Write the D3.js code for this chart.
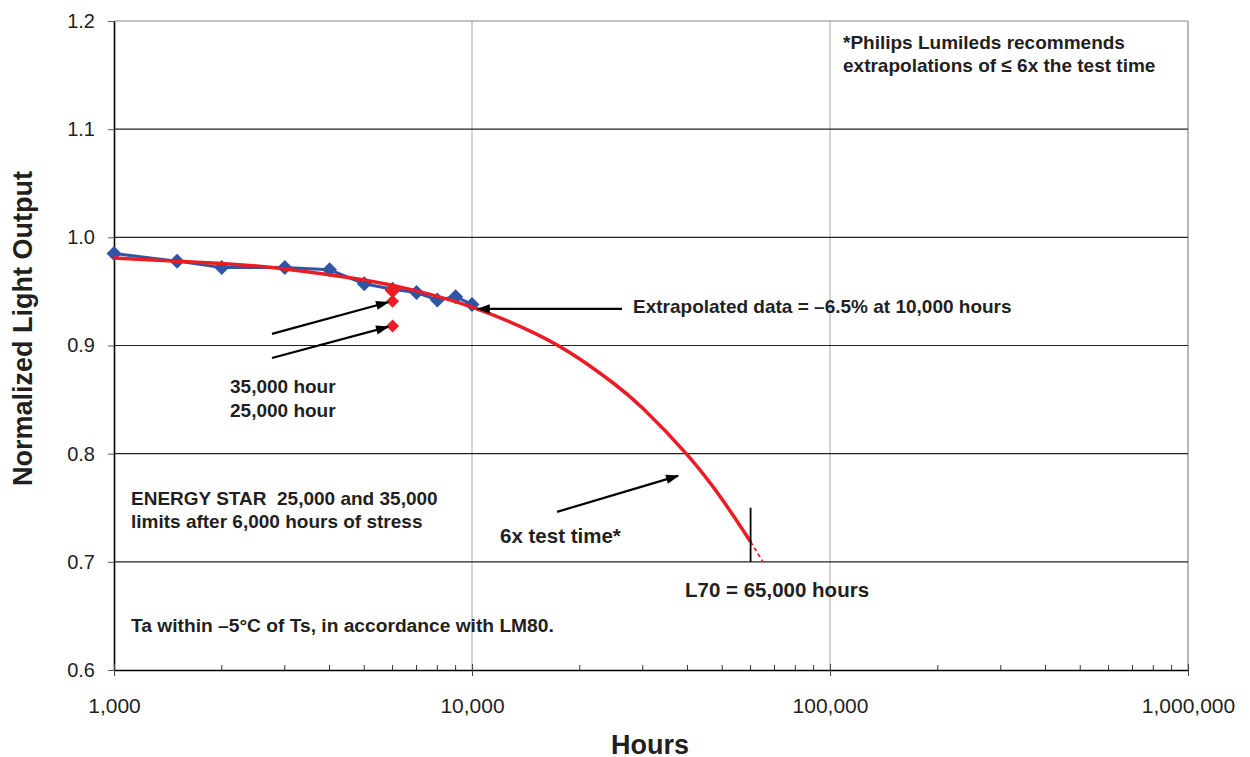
<!DOCTYPE html>
<html>
<head>
<meta charset="utf-8">
<script src="https://cdn.jsdelivr.net/npm/d3@7"></script>
<style>
  body { margin: 0; background: #fff; }
  svg { font-family: "Liberation Sans", Arial, sans-serif; }
  .ann { font-weight: bold; fill: #231f20; }
</style>
</head>
<body>
<svg id="chart" width="1250" height="757"></svg>
<script>
// measured LM80 data (hours vs normalized light output)
const testHours = [1000, 1500, 2000, 3000, 4000, 5000, 6000, 7000, 8000, 9000, 10000];
const testOutput = [0.985, 0.978, 0.972, 0.972, 0.970, 0.957, 0.952, 0.949, 0.942, 0.945, 0.938];

// projected (fitted) curve
const fitHours = [1000, 2000, 3000, 5000, 7000, 10000, 15000, 20000, 25000, 30000, 40000, 50000, 60000];
const fitOutput = [0.9810, 0.9758, 0.9707, 0.9605, 0.9505, 0.9355, 0.9112, 0.8875, 0.8644, 0.8419, 0.7986, 0.7576, 0.7186];
const dashHours = [60000, 65000];
const dashOutput = [0.7186, 0.6999];

// ENERGY STAR points at 6,000 hours
const limitHours = [6000, 6000, 6000];
const limitOutput = [0.951, 0.941, 0.918];
const limitSize = [8, 6.5, 6.5];

const yTicks = [0.6, 0.7, 0.8, 0.9, 1.0, 1.1, 1.2];
const xTicks = [1000, 10000, 100000, 1000000];

const svg = d3.select('#chart');
const margin = { top: 21, right: 62, bottom: 87, left: 114 };
const width = +svg.attr('width');
const height = +svg.attr('height');
const innerWidth = width - margin.left - margin.right;
const innerHeight = height - margin.top - margin.bottom;

const x = d3.scaleLog().domain([1000, 1000000]).range([0, innerWidth]);
const y = d3.scaleLinear().domain([0.6, 1.2]).range([innerHeight, 0]);

const g = svg.append('g').attr('transform', `translate(${margin.left},${margin.top})`);

// vertical grid (light)
g.selectAll('.vgrid').data(xTicks.slice(1))
  .enter().append('line')
    .attr('x1', d => x(d)).attr('x2', d => x(d))
    .attr('y1', 0).attr('y2', innerHeight)
    .attr('stroke', d => d === 1000000 ? '#888' : '#b4b4b4')
    .attr('stroke-width', 1.2);

// horizontal grid
g.selectAll('.hgrid').data(yTicks.slice(1))
  .enter().append('line')
    .attr('x1', 0).attr('x2', innerWidth)
    .attr('y1', d => y(d)).attr('y2', d => y(d))
    .attr('stroke', d => d === 1.2 ? '#888' : '#222')
    .attr('stroke-width', 1.1);

// y axis
const yAxisG = g.append('g')
  .call(d3.axisLeft(y).tickValues(yTicks).tickFormat(d3.format('.1f')).tickSize(6).tickSizeOuter(0));
yAxisG.select('.domain').attr('stroke', '#000').attr('stroke-width', 1.6);
yAxisG.selectAll('.tick line').attr('stroke', '#555');
yAxisG.selectAll('.tick text')
  .attr('x', -19)
  .attr('font-size', 20)
  .attr('font-family', '"Liberation Sans", Arial, sans-serif')
  .attr('fill', '#231f20');

// x axis: minor ticks inside, major ticks crossing
const minor = [];
[1000, 10000, 100000].forEach(base => {
  for (let k = 2; k <= 9; k++) minor.push(base * k);
});
g.selectAll('.minor').data(minor)
  .enter().append('line')
    .attr('x1', d => x(d)).attr('x2', d => x(d))
    .attr('y1', innerHeight - 5).attr('y2', innerHeight)
    .attr('stroke', '#333').attr('stroke-width', 1);

const xAxisG = g.append('g')
  .attr('transform', `translate(0,${innerHeight})`)
  .call(d3.axisBottom(x).tickValues(xTicks).tickFormat(d3.format(',')).tickSize(6).tickSizeOuter(0));
xAxisG.select('.domain').attr('stroke', '#000').attr('stroke-width', 1.6);
xAxisG.selectAll('.tick line').attr('y1', -6).attr('stroke', '#444');
xAxisG.selectAll('.tick text')
  .attr('y', 28)
  .attr('font-size', 21)
  .attr('font-family', '"Liberation Sans", Arial, sans-serif')
  .attr('fill', '#231f20');

// axis titles
svg.append('text')
  .attr('transform', `translate(32,${margin.top + y(0.9) - 17}) rotate(-90)`)
  .attr('text-anchor', 'middle')
  .attr('class', 'ann')
  .attr('font-size', 27)
  .text('Normalized Light Output');

svg.append('text')
  .attr('x', margin.left + innerWidth / 2 - 1)
  .attr('y', 754)
  .attr('text-anchor', 'middle')
  .attr('class', 'ann')
  .attr('font-size', 27)
  .text('Hours');

// measured data line + diamonds
const testData = testHours.map((h, i) => ({ h, v: testOutput[i] }));
const line = d3.line().x(d => x(d.h)).y(d => y(d.v));

g.append('path')
  .datum(testData)
  .attr('fill', 'none')
  .attr('stroke', '#2f55a4')
  .attr('stroke-width', 3)
  .attr('d', line);

const diamond = s => `M0,${-s}L${s},0L0,${s}L${-s},0Z`;

g.selectAll('.test-pt').data(testData)
  .enter().append('path')
    .attr('transform', d => `translate(${x(d.h)},${y(d.v)})`)
    .attr('d', diamond(7.5))
    .attr('fill', '#2f55a4');

// fitted projection
const fitData = fitHours.map((h, i) => ({ h, v: fitOutput[i] }));
g.append('path')
  .datum(fitData)
  .attr('fill', 'none')
  .attr('stroke', '#ec1c24')
  .attr('stroke-width', 3.5)
  .attr('d', d3.line().x(d => x(d.h)).y(d => y(d.v)).curve(d3.curveNatural));

const dashData = dashHours.map((h, i) => ({ h, v: dashOutput[i] }));
g.append('path')
  .datum(dashData)
  .attr('fill', 'none')
  .attr('stroke', '#ec1c24')
  .attr('stroke-width', 1.8)
  .attr('stroke-dasharray', '4,3')
  .attr('d', line);

// ENERGY STAR limit markers
g.selectAll('.limit-pt').data(limitHours.map((h, i) => ({ h, v: limitOutput[i], s: limitSize[i] })))
  .enter().append('path')
    .attr('transform', d => `translate(${x(d.h)},${y(d.v)})`)
    .attr('d', d => diamond(d.s))
    .attr('fill', '#ec1c24');

// L70 marker line at 60,000 hours
g.append('line')
  .attr('x1', x(60000)).attr('x2', x(60000))
  .attr('y1', y(0.75)).attr('y2', y(0.70))
  .attr('stroke', '#000').attr('stroke-width', 1.8);

// arrows
svg.append('defs').append('marker')
  .attr('id', 'head')
  .attr('viewBox', '0 0 10 10')
  .attr('refX', 9).attr('refY', 5)
  .attr('markerWidth', 8).attr('markerHeight', 6)
  .attr('markerUnits', 'strokeWidth')
  .attr('orient', 'auto')
  .append('path')
    .attr('d', 'M0,1.5L10,5L0,8.5Z')
    .attr('fill', '#000');

const arrows = [
  { from: [2762, 0.9107], to: [5825, 0.9400] },
  { from: [2762, 0.8885], to: [5825, 0.9172] },
  { from: [26240, 0.9338], to: [10390, 0.9338] },
  { from: [17280, 0.7462], to: [37620, 0.7795] }
];
g.selectAll('.arrow').data(arrows)
  .enter().append('line')
    .attr('x1', d => x(d.from[0])).attr('y1', d => y(d.from[1]))
    .attr('x2', d => x(d.to[0])).attr('y2', d => y(d.to[1]))
    .attr('stroke', '#000')
    .attr('stroke-width', 2.2)
    .attr('marker-end', 'url(#head)');

// annotations
const notes = [
  { x: 843, y: 49, size: 19, t: '*Philips Lumileds recommends' },
  { x: 843, y: 72, size: 19, t: 'extrapolations of \u2264 6x the test time' },
  { x: 633, y: 313, size: 19, t: 'Extrapolated data = \u20136.5% at 10,000 hours' },
  { x: 230, y: 393, size: 19, t: '35,000 hour' },
  { x: 230, y: 417, size: 19, t: '25,000 hour' },
  { x: 131, y: 505, size: 19, t: 'ENERGY STAR\u00a0\u00a025,000 and 35,000' },
  { x: 131, y: 528, size: 19, t: 'limits after 6,000 hours of stress' },
  { x: 500, y: 543, size: 20.5, t: '6x test time*' },
  { x: 685, y: 597, size: 20.5, t: 'L70 = 65,000 hours' },
  { x: 131, y: 632, size: 19.2, t: 'Ta within \u20135\u00b0C of Ts, in accordance with LM80.' }
];
svg.selectAll('.note').data(notes)
  .enter().append('text')
    .attr('class', 'ann')
    .attr('x', d => d.x)
    .attr('y', d => d.y)
    .attr('font-size', d => d.size)
    .text(d => d.t);
</script>
</body>
</html>
